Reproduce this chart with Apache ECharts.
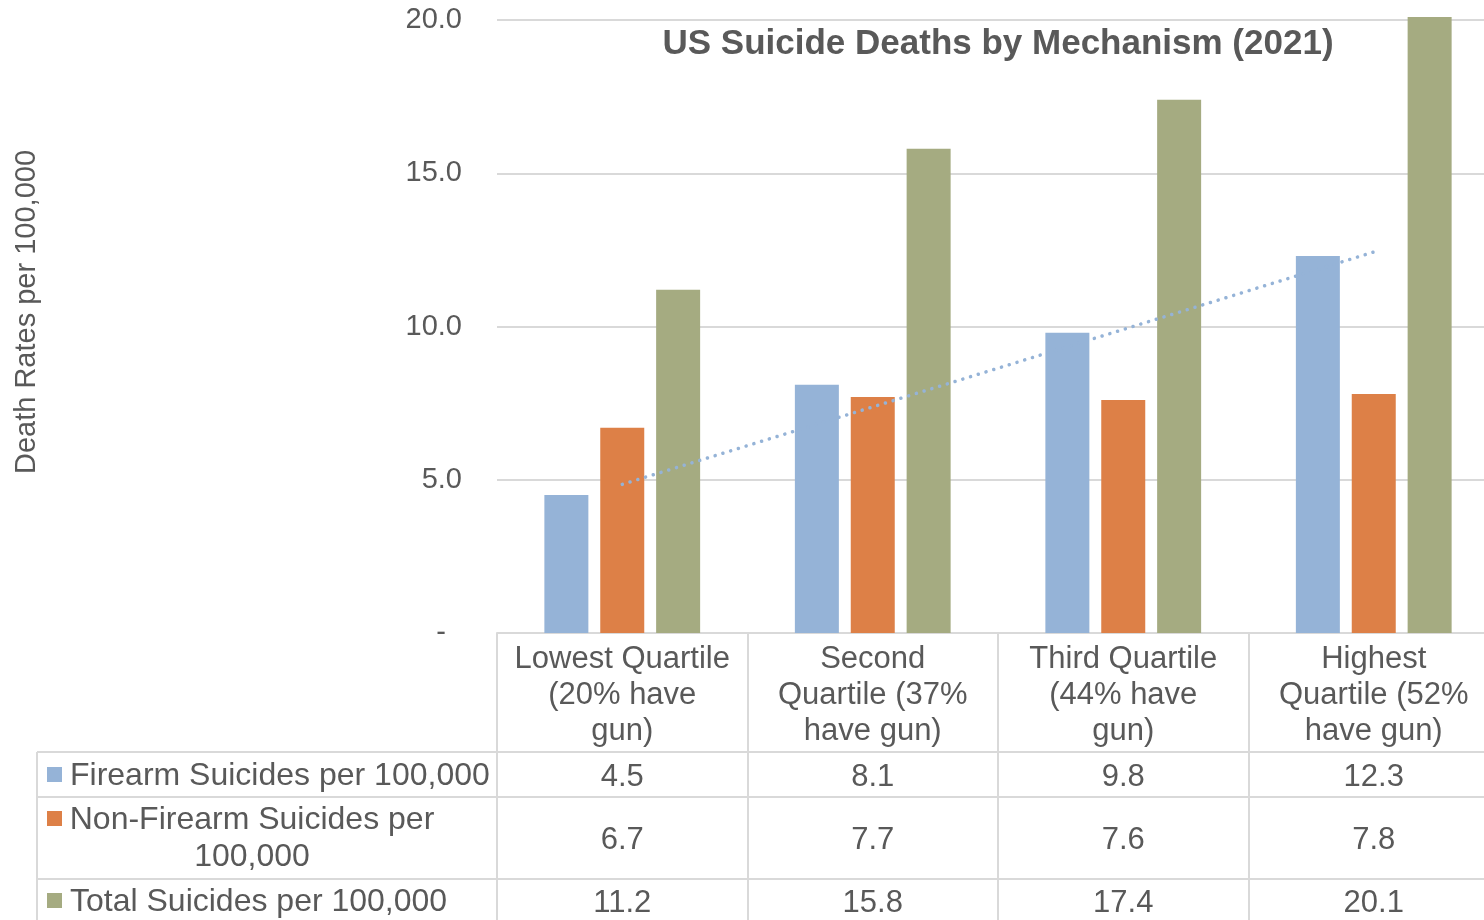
<!DOCTYPE html>
<html>
<head>
<meta charset="utf-8">
<script src="https://cdn.jsdelivr.net/npm/echarts@6/dist/echarts.min.js"></script>
<style>
html,body{margin:0;padding:0;background:#fff;}
#chart{width:1484px;height:920px;}
</style>
</head>
<body>
<div id="chart"></div>
<script>
// ---- data ----
const categories = [
  'Lowest Quartile\n(20% have\ngun)',
  'Second\nQuartile (37%\nhave gun)',
  'Third Quartile\n(44% have\ngun)',
  'Highest\nQuartile (52%\nhave gun)'
];
const seriesNames = ['Firearm Suicides per 100,000', 'Non-Firearm Suicides per 100,000', 'Total Suicides per 100,000'];
const rowHeaderLines = [['Firearm Suicides per 100,000'], ['Non-Firearm Suicides per', '100,000'], ['Total Suicides per 100,000']];
const firearm = [4.5, 8.1, 9.8, 12.3];
const nonFirearm = [6.7, 7.7, 7.6, 7.8];
const total = [11.2, 15.8, 17.4, 20.1];
const firearmTrend = [4.85, null, null, 12.43]; // linear trendline endpoints
const yTicks = [0, 5, 10, 15, 20];
const titleText = 'US Suicide Deaths by Mechanism (2021)';
const yAxisTitle = 'Death Rates per 100,000';

// ---- style ----
const colors = ['#95b3d7', '#dd8047', '#a5ab81'];
const textColor = '#595959';
const lineColor = '#d9d9d9';
const font = '"Liberation Sans", Arial, sans-serif';

const gridTop = 20, gridBottomY = 633, gridLeft = 497;
const rowLinesY = [752, 797, 879];
const rowCenters = [777, 840, 903];
const tableLeft = 37;

const chart = echarts.init(document.getElementById('chart'), null, {renderer: 'canvas'});

const tableRows = [firearm, nonFirearm, total];
const valueAxes = tableRows.map((arr, r) => ({
  type: 'category',
  gridIndex: 0,
  position: 'bottom',
  offset: 0,
  data: categories,
  axisLine: {show: false},
  axisTick: {show: false},
  splitLine: {show: false},
  axisLabel: {
    interval: 0,
    margin: rowCenters[r] - gridBottomY,
    verticalAlign: 'middle',
    fontSize: 31,
    fontFamily: font,
    color: textColor,
    formatter: (v, i) => arr[i].toFixed(1)
  }
}));

const graphics = [];
// table horizontal lines
rowLinesY.forEach(y => {
  graphics.push({type: 'line', silent: true, shape: {x1: tableLeft, y1: y, x2: 1484, y2: y},
    style: {stroke: lineColor, lineWidth: 2}});
});
graphics.push({type: 'line', silent: true, shape: {x1: tableLeft, y1: rowLinesY[0], x2: tableLeft, y2: 920},
  style: {stroke: lineColor, lineWidth: 2}});
// row headers with legend keys
const rowFirstLineY = [776, 820, 902];
rowHeaderLines.forEach((lines, r) => {
  graphics.push({type: 'rect', silent: true, shape: {x: 47, y: rowFirstLineY[r] - 9, width: 15, height: 15},
    style: {fill: colors[r]}});
  if (lines.length === 1) {
    graphics.push({type: 'text', silent: true, x: 70, y: rowFirstLineY[r],
      style: {text: lines[0], font: '32px ' + font, fill: textColor, align: 'left', verticalAlign: 'middle'}});
  } else {
    lines.forEach((t, k) => {
      graphics.push({type: 'text', silent: true, x: 252, y: rowFirstLineY[r] + k * 37,
        style: {text: t, font: '32px ' + font, fill: textColor, align: 'center', verticalAlign: 'middle'}});
    });
  }
});
// y axis title
graphics.push({type: 'text', silent: true, x: 27, y: 312, rotation: Math.PI / 2,
  style: {text: yAxisTitle, font: '29px ' + font, fill: textColor, align: 'center', verticalAlign: 'middle'}});

const option = {
  backgroundColor: '#ffffff',
  animation: false,
  title: {
    text: titleText,
    left: 998,
    top: 27,
    padding: 0,
    textAlign: 'center',
    textStyle: {fontSize: 35, fontWeight: 'bold', fontFamily: font, color: textColor, lineHeight: 35}
  },
  grid: {left: gridLeft, top: gridTop, width: 1002, height: gridBottomY - gridTop,
    containLabel: false, outerBoundsMode: 'none'},
  xAxis: [{
    type: 'category',
    data: categories,
    boundaryGap: true,
    axisLine: {show: true, lineStyle: {color: lineColor, width: 2}},
    axisTick: {show: true, alignWithLabel: false, length: 920 - gridBottomY, lineStyle: {color: lineColor, width: 2}},
    splitLine: {show: false},
    axisLabel: {
      interval: 0,
      margin: 62,
      verticalAlign: 'middle',
      fontSize: 31,
      lineHeight: 36,
      fontFamily: font,
      color: textColor,
      align: 'center'
    }
  }].concat(valueAxes),
  yAxis: {
    type: 'value',
    min: yTicks[0],
    max: yTicks[yTicks.length - 1],
    interval: yTicks[1] - yTicks[0],
    axisLine: {show: false},
    axisTick: {show: false},
    splitLine: {show: true, lineStyle: {color: lineColor, width: 2}},
    axisLabel: {
      margin: 35,
      fontSize: 29,
      fontFamily: font,
      color: textColor,
      padding: [5, 0, 0, 0],
      formatter: v => v === 0 ? '-  ' : v.toFixed(1)
    }
  },
  series: [
    {name: seriesNames[0], type: 'bar', data: firearm, barWidth: 44, barGap: '27%', clip: false,
      itemStyle: {color: colors[0]}},
    {name: seriesNames[1], type: 'bar', data: nonFirearm, barWidth: 44, barGap: '27%', clip: false,
      itemStyle: {color: colors[1]}},
    {name: seriesNames[2], type: 'bar', data: total, barWidth: 44, barGap: '27%', clip: false,
      itemStyle: {color: colors[2]}},
    {name: 'Linear (Firearm Suicides per 100,000)', type: 'line', data: firearmTrend, connectNulls: true,
      symbol: 'none', z: 5,
      lineStyle: {color: colors[0], width: 3.5, type: [0.1, 8], cap: 'round'}}
  ],
  graphic: graphics
};
chart.setOption(option);
</script>
</body>
</html>
